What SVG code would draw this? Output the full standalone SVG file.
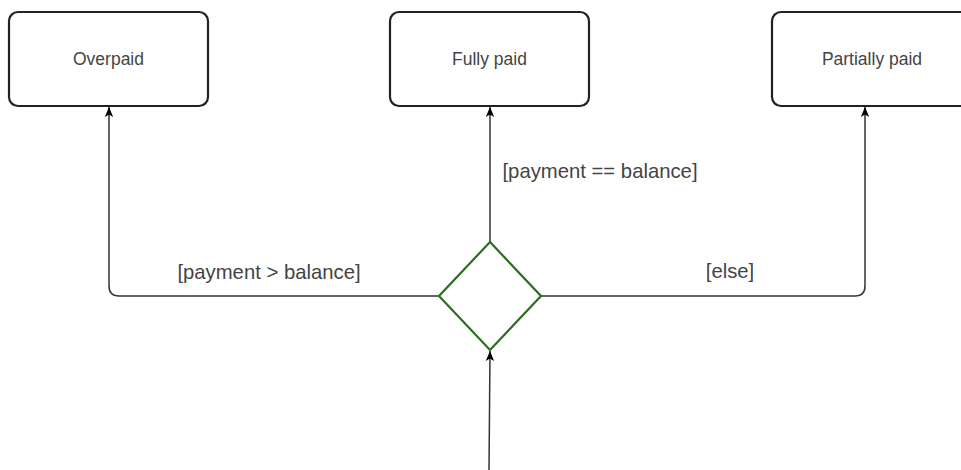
<svg xmlns="http://www.w3.org/2000/svg" width="961" height="470" viewBox="0 0 961 470">
<defs>
<style>
.box{fill:#ffffff;stroke:#222222;stroke-width:2.2}
.lbl{font-family:"Liberation Sans",Arial,sans-serif;font-size:17.5px;fill:#444444;text-anchor:middle}
.elbl{font-family:"Liberation Sans",Arial,sans-serif;font-size:20.3px;fill:#444444;text-anchor:middle}
.conn{fill:none;stroke:#333333;stroke-width:1.5}
.dec{fill:#ffffff;stroke:#2a6e1f;stroke-width:2.2}
</style>
<marker id="arr" viewBox="0 0 10 10" refX="10" refY="5" markerWidth="10" markerHeight="10" markerUnits="userSpaceOnUse" orient="auto">
<path d="M0,0.8 L10,5 L0,9.2 L2.5,5 z" fill="#000000"/>
</marker>
</defs>
<rect width="961" height="470" fill="#ffffff"/>
<g id="connectors">
<path class="conn" d="M440,296 H119 Q109,296 109,286 V107" marker-end="url(#arr)"/>
<path class="conn" d="M490,242 V107" marker-end="url(#arr)"/>
<path class="conn" d="M541,296 H855 Q865,296 865,286 V107" marker-end="url(#arr)"/>
<path class="conn" d="M489,470 L490,351" marker-end="url(#arr)"/>
<text class="elbl" x="269" y="279">[payment &gt; balance]</text>
<text class="elbl" x="600" y="178">[payment == balance]</text>
<text class="elbl" x="730" y="278">[else]</text>
</g>
<g id="overpaid">
<rect class="box" x="9" y="12" width="199" height="94" rx="9" ry="9"/>
<text class="lbl" x="108.5" y="65">Overpaid</text>
</g>
<g id="fully-paid">
<rect class="box" x="390" y="12" width="199" height="94" rx="9" ry="9"/>
<text class="lbl" x="489.5" y="65">Fully paid</text>
</g>
<g id="partially-paid">
<rect class="box" x="772" y="12" width="199" height="94" rx="9" ry="9"/>
<text class="lbl" x="872" y="65">Partially paid</text>
</g>
<g id="decision">
<path class="dec" d="M490,242 L541,296 L490,350 L439,296 Z"/>
</g>
</svg>
